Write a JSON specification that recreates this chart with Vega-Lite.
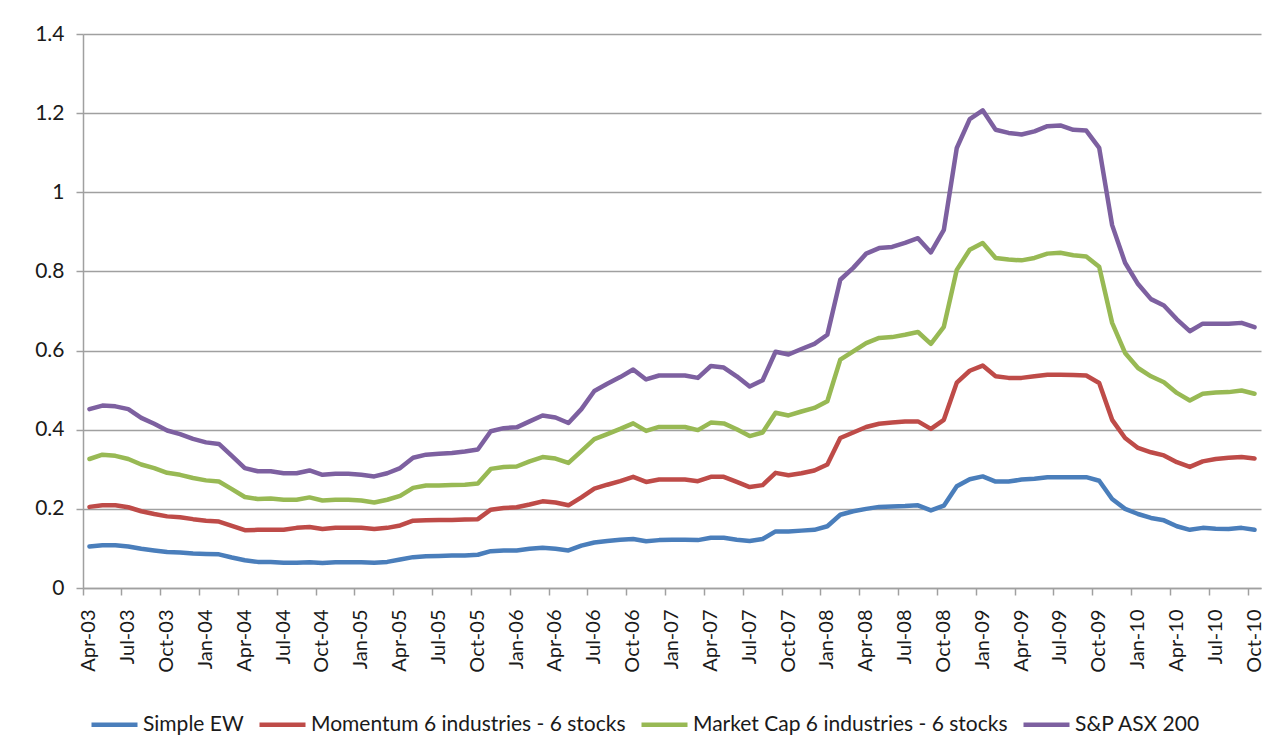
{
  "$schema": "https://vega.github.io/schema/vega-lite/v6.json",
  "width": 1178,
  "height": 554,
  "autosize": "none",
  "padding": {"left": 83, "top": 34, "right": 26, "bottom": 163},
  "background": "white",
  "config": {"view": {"stroke": null}, "font": "Lato"},
  "data": {"values": [
    {"m":"Apr-03","ew":0.105,"mom":0.205,"mc":0.326,"asx":0.452},
    {"m":"May-03","ew":0.108,"mom":0.209,"mc":0.337,"asx":0.461},
    {"m":"Jun-03","ew":0.108,"mom":0.209,"mc":0.334,"asx":0.459},
    {"m":"Jul-03","ew":0.105,"mom":0.204,"mc":0.326,"asx":0.452},
    {"m":"Aug-03","ew":0.099,"mom":0.194,"mc":0.312,"asx":0.430},
    {"m":"Sep-03","ew":0.095,"mom":0.187,"mc":0.303,"asx":0.415},
    {"m":"Oct-03","ew":0.091,"mom":0.181,"mc":0.291,"asx":0.398},
    {"m":"Nov-03","ew":0.090,"mom":0.179,"mc":0.286,"asx":0.389},
    {"m":"Dec-03","ew":0.087,"mom":0.174,"mc":0.278,"asx":0.377},
    {"m":"Jan-04","ew":0.086,"mom":0.170,"mc":0.272,"asx":0.368},
    {"m":"Feb-04","ew":0.085,"mom":0.168,"mc":0.269,"asx":0.364},
    {"m":"Mar-04","ew":0.077,"mom":0.157,"mc":0.250,"asx":0.334},
    {"m":"Apr-04","ew":0.070,"mom":0.146,"mc":0.230,"asx":0.303},
    {"m":"May-04","ew":0.066,"mom":0.147,"mc":0.225,"asx":0.295},
    {"m":"Jun-04","ew":0.066,"mom":0.147,"mc":0.226,"asx":0.295},
    {"m":"Jul-04","ew":0.064,"mom":0.147,"mc":0.223,"asx":0.290},
    {"m":"Aug-04","ew":0.064,"mom":0.152,"mc":0.223,"asx":0.290},
    {"m":"Sep-04","ew":0.065,"mom":0.154,"mc":0.229,"asx":0.297},
    {"m":"Oct-04","ew":0.063,"mom":0.149,"mc":0.221,"asx":0.286},
    {"m":"Nov-04","ew":0.065,"mom":0.152,"mc":0.223,"asx":0.289},
    {"m":"Dec-04","ew":0.065,"mom":0.152,"mc":0.223,"asx":0.289},
    {"m":"Jan-05","ew":0.065,"mom":0.152,"mc":0.221,"asx":0.286},
    {"m":"Feb-05","ew":0.064,"mom":0.149,"mc":0.216,"asx":0.282},
    {"m":"Mar-05","ew":0.066,"mom":0.152,"mc":0.223,"asx":0.290},
    {"m":"Apr-05","ew":0.072,"mom":0.158,"mc":0.233,"asx":0.303},
    {"m":"May-05","ew":0.078,"mom":0.170,"mc":0.253,"asx":0.329},
    {"m":"Jun-05","ew":0.080,"mom":0.171,"mc":0.259,"asx":0.337},
    {"m":"Jul-05","ew":0.081,"mom":0.172,"mc":0.259,"asx":0.339},
    {"m":"Aug-05","ew":0.082,"mom":0.172,"mc":0.260,"asx":0.341},
    {"m":"Sep-05","ew":0.082,"mom":0.173,"mc":0.261,"asx":0.345},
    {"m":"Oct-05","ew":0.084,"mom":0.174,"mc":0.264,"asx":0.350},
    {"m":"Nov-05","ew":0.093,"mom":0.198,"mc":0.301,"asx":0.396},
    {"m":"Dec-05","ew":0.095,"mom":0.202,"mc":0.306,"asx":0.404},
    {"m":"Jan-06","ew":0.095,"mom":0.204,"mc":0.307,"asx":0.406},
    {"m":"Feb-06","ew":0.099,"mom":0.211,"mc":0.320,"asx":0.421},
    {"m":"Mar-06","ew":0.102,"mom":0.219,"mc":0.331,"asx":0.436},
    {"m":"Apr-06","ew":0.099,"mom":0.216,"mc":0.327,"asx":0.431},
    {"m":"May-06","ew":0.095,"mom":0.209,"mc":0.316,"asx":0.417},
    {"m":"Jun-06","ew":0.107,"mom":0.229,"mc":0.346,"asx":0.452},
    {"m":"Jul-06","ew":0.115,"mom":0.251,"mc":0.376,"asx":0.498},
    {"m":"Aug-06","ew":0.119,"mom":0.261,"mc":0.389,"asx":0.516},
    {"m":"Sep-06","ew":0.122,"mom":0.270,"mc":0.402,"asx":0.533},
    {"m":"Oct-06","ew":0.124,"mom":0.281,"mc":0.416,"asx":0.552},
    {"m":"Nov-06","ew":0.118,"mom":0.268,"mc":0.397,"asx":0.527},
    {"m":"Dec-06","ew":0.121,"mom":0.274,"mc":0.407,"asx":0.537},
    {"m":"Jan-07","ew":0.122,"mom":0.274,"mc":0.407,"asx":0.537},
    {"m":"Feb-07","ew":0.122,"mom":0.274,"mc":0.407,"asx":0.537},
    {"m":"Mar-07","ew":0.121,"mom":0.270,"mc":0.399,"asx":0.531},
    {"m":"Apr-07","ew":0.127,"mom":0.281,"mc":0.418,"asx":0.561},
    {"m":"May-07","ew":0.127,"mom":0.281,"mc":0.416,"asx":0.557},
    {"m":"Jun-07","ew":0.122,"mom":0.268,"mc":0.401,"asx":0.535},
    {"m":"Jul-07","ew":0.119,"mom":0.255,"mc":0.384,"asx":0.509},
    {"m":"Aug-07","ew":0.124,"mom":0.260,"mc":0.393,"asx":0.525},
    {"m":"Sep-07","ew":0.143,"mom":0.291,"mc":0.443,"asx":0.597},
    {"m":"Oct-07","ew":0.143,"mom":0.285,"mc":0.436,"asx":0.590},
    {"m":"Nov-07","ew":0.145,"mom":0.290,"mc":0.446,"asx":0.604},
    {"m":"Dec-07","ew":0.147,"mom":0.297,"mc":0.455,"asx":0.617},
    {"m":"Jan-08","ew":0.156,"mom":0.312,"mc":0.472,"asx":0.640},
    {"m":"Feb-08","ew":0.185,"mom":0.379,"mc":0.577,"asx":0.779},
    {"m":"Mar-08","ew":0.194,"mom":0.393,"mc":0.598,"asx":0.809},
    {"m":"Apr-08","ew":0.200,"mom":0.407,"mc":0.619,"asx":0.845},
    {"m":"May-08","ew":0.205,"mom":0.415,"mc":0.632,"asx":0.859},
    {"m":"Jun-08","ew":0.206,"mom":0.418,"mc":0.634,"asx":0.862},
    {"m":"Jul-08","ew":0.207,"mom":0.421,"mc":0.640,"asx":0.872},
    {"m":"Aug-08","ew":0.209,"mom":0.421,"mc":0.647,"asx":0.884},
    {"m":"Sep-08","ew":0.196,"mom":0.402,"mc":0.617,"asx":0.848},
    {"m":"Oct-08","ew":0.208,"mom":0.425,"mc":0.660,"asx":0.905},
    {"m":"Nov-08","ew":0.257,"mom":0.519,"mc":0.804,"asx":1.112},
    {"m":"Dec-08","ew":0.275,"mom":0.549,"mc":0.855,"asx":1.185},
    {"m":"Jan-09","ew":0.282,"mom":0.562,"mc":0.872,"asx":1.207},
    {"m":"Feb-09","ew":0.269,"mom":0.535,"mc":0.834,"asx":1.158},
    {"m":"Mar-09","ew":0.269,"mom":0.531,"mc":0.830,"asx":1.150},
    {"m":"Apr-09","ew":0.274,"mom":0.531,"mc":0.828,"asx":1.146},
    {"m":"May-09","ew":0.276,"mom":0.535,"mc":0.834,"asx":1.154},
    {"m":"Jun-09","ew":0.280,"mom":0.539,"mc":0.845,"asx":1.167},
    {"m":"Jul-09","ew":0.280,"mom":0.539,"mc":0.847,"asx":1.169},
    {"m":"Aug-09","ew":0.280,"mom":0.538,"mc":0.841,"asx":1.158},
    {"m":"Sep-09","ew":0.280,"mom":0.537,"mc":0.838,"asx":1.156},
    {"m":"Oct-09","ew":0.271,"mom":0.518,"mc":0.812,"asx":1.112},
    {"m":"Nov-09","ew":0.225,"mom":0.425,"mc":0.670,"asx":0.917},
    {"m":"Dec-09","ew":0.200,"mom":0.379,"mc":0.594,"asx":0.822},
    {"m":"Jan-10","ew":0.187,"mom":0.354,"mc":0.556,"asx":0.768},
    {"m":"Feb-10","ew":0.177,"mom":0.343,"mc":0.535,"asx":0.730},
    {"m":"Mar-10","ew":0.171,"mom":0.335,"mc":0.520,"asx":0.714},
    {"m":"Apr-10","ew":0.156,"mom":0.318,"mc":0.493,"asx":0.679},
    {"m":"May-10","ew":0.147,"mom":0.306,"mc":0.474,"asx":0.649},
    {"m":"Jun-10","ew":0.152,"mom":0.320,"mc":0.491,"asx":0.668},
    {"m":"Jul-10","ew":0.150,"mom":0.326,"mc":0.494,"asx":0.668},
    {"m":"Aug-10","ew":0.149,"mom":0.329,"mc":0.495,"asx":0.668},
    {"m":"Sep-10","ew":0.152,"mom":0.331,"mc":0.499,"asx":0.670},
    {"m":"Oct-10","ew":0.147,"mom":0.327,"mc":0.491,"asx":0.659}
  ]},
  "transform": [{"fold": ["ew", "mom", "mc", "asx"], "as": ["series", "value"]}],
  "mark": {"type": "line", "strokeWidth": 4.5, "strokeJoin": "round", "strokeCap": "round"},
  "encoding": {
    "x": {
      "field": "m",
      "type": "ordinal",
      "sort": null,
      "scale": {"type": "band", "paddingInner": 0, "paddingOuter": 0},
      "axis": {
        "title": null,
        "values": ["Apr-03","Jul-03","Oct-03","Jan-04","Apr-04","Jul-04","Oct-04","Jan-05","Apr-05","Jul-05","Oct-05","Jan-06","Apr-06","Jul-06","Oct-06","Jan-07","Apr-07","Jul-07","Oct-07","Jan-08","Apr-08","Jul-08","Oct-08","Jan-09","Apr-09","Jul-09","Oct-09","Jan-10","Apr-10","Jul-10","Oct-10"],
        "bandPosition": 0,
        "labelAngle": 270,
        "labelAlign": "right",
        "labelBaseline": "middle",
        "labelFontSize": 20,
        "labelColor": "#1a1a1a",
        "labelPadding": 14,
        "tickSize": 7,
        "tickWidth": 1.5,
        "tickColor": "#a0a0a0",
        "domainColor": "#a0a0a0",
        "domainWidth": 1.5,
        "grid": false
      }
    },
    "y": {
      "field": "value",
      "type": "quantitative",
      "scale": {"domain": [0, 1.4], "nice": false, "zero": true},
      "axis": {
        "title": null,
        "values": [0, 0.2, 0.4, 0.6, 0.8, 1, 1.2, 1.4],
        "format": "~g",
        "grid": true,
        "gridColor": "#a0a0a0",
        "gridWidth": 1.5,
        "tickSize": 7,
        "tickWidth": 1.5,
        "tickColor": "#a0a0a0",
        "domainColor": "#a0a0a0",
        "domainWidth": 1.5,
        "labelFontSize": 21,
        "labelColor": "#1a1a1a",
        "labelPadding": 12
      }
    },
    "color": {
      "field": "series",
      "type": "nominal",
      "scale": {"domain": ["ew", "mom", "mc", "asx"], "range": ["#4A7EBB", "#BE4B48", "#98B954", "#7D60A0"]},
      "legend": {
        "title": null,
        "orient": "none",
        "direction": "horizontal",
        "legendX": 6,
        "legendY": 665,
        "padding": 0,
        "symbolType": "stroke",
        "symbolSize": 2116,
        "symbolStrokeWidth": 4.5,
        "labelFontSize": 21,
        "labelLimit": 0,
        "labelColor": "#1a1a1a",
        "labelOffset": 3,
        "columnPadding": 6,
        "labelExpr": "datum.label == 'ew' ? 'Simple EW' : datum.label == 'mom' ? 'Momentum 6 industries - 6 stocks' : datum.label == 'mc' ? 'Market Cap 6 industries - 6 stocks' : 'S&P ASX 200'"
      }
    }
  }
}
